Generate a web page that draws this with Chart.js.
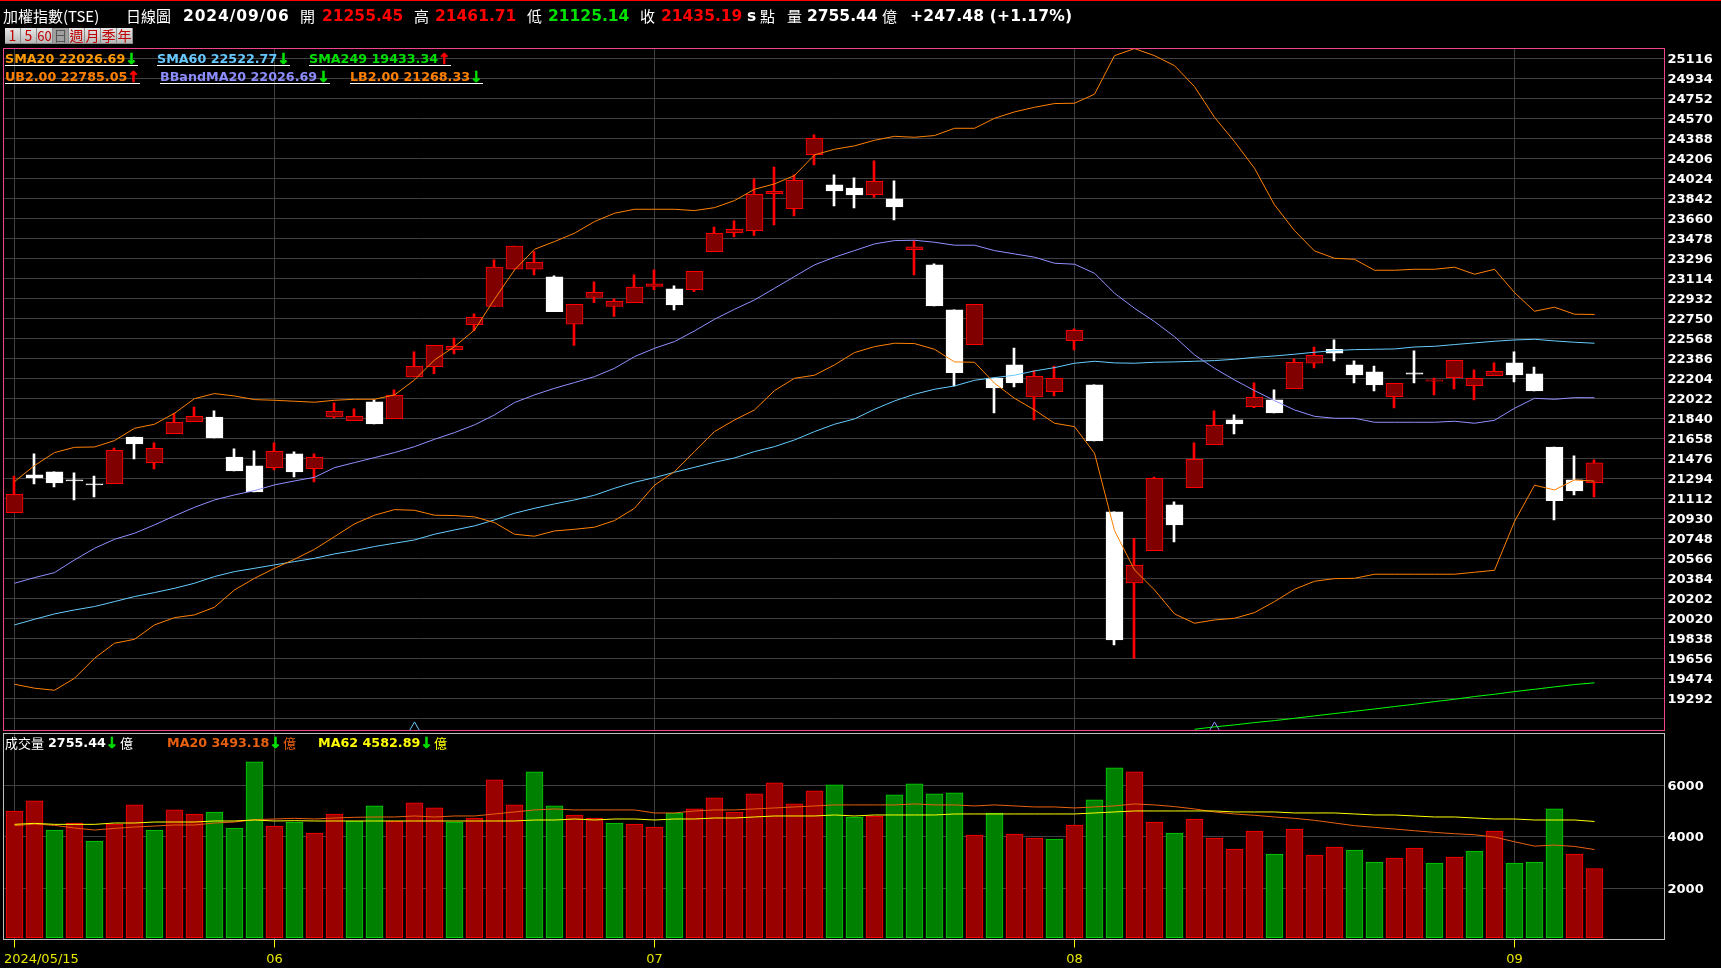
<!DOCTYPE html>
<html lang="zh-Hant"><head><meta charset="utf-8"><title>加權指數(TSE) 日線圖</title>
<script src="https://cdn.jsdelivr.net/npm/chart.js@4/dist/chart.umd.min.js"></script>
<style>
html,body{margin:0;padding:0;background:#000;width:1721px;height:968px;overflow:hidden}
canvas{position:absolute;left:0;display:block}
#topline{position:absolute;left:0;top:0;width:1721px;height:1px;background:#f00}
.t{position:absolute;white-space:pre;line-height:1;z-index:5}
.cjk{font-family:"Noto Sans CJK TC",sans-serif;font-weight:400;color:#fff}
.b{font-family:"DejaVu Sans",sans-serif;font-weight:700}
.h{font-size:15.5px;top:9px}
.c{font-size:15.5px;top:9px}
.l{font-size:12.7px;padding-bottom:1px;border-bottom:1px solid #fff;height:11px}
.dn,.up{display:inline-block;font-size:15px;line-height:12px;vertical-align:top;-webkit-text-stroke:.6px currentColor}
.dn{color:#00e000}.up{color:#ff0000}
#btns{position:absolute;left:5px;top:28px;height:16px;display:flex;z-index:5}
#btns span{width:16px;height:16px;box-sizing:border-box;text-align:center;font:14px/15px "Noto Sans CJK TC",sans-serif;color:#c00000;background:linear-gradient(#e8e8e8,#b8b8b8);border-right:1px solid #8a8a8a;border-bottom:1px solid #8a8a8a}
#btns span.on{background:#a0a0a0;color:#555}
</style></head><body>
<div id="topline"></div>
<canvas id="priceChart" width="1721" height="732" style="top:0;width:1721px;height:732px"></canvas>
<canvas id="volumeChart" width="1721" height="236" style="top:732px;width:1721px;height:236px"></canvas>

<span class="t cjk" style="left:3px;top:8px;font-size:15px">加權指數(TSE)</span>
<span class="t cjk" style="left:126px;top:8px;font-size:15px">日線圖</span>
<span class="t b h" style="left:183px;color:#fff;letter-spacing:.9px">2024/09/06</span>
<span class="t cjk" style="left:300px;top:8px;font-size:15px">開</span>
<span class="t b c" style="left:322px;color:#f00">21255.45</span>
<span class="t cjk" style="left:414px;top:8px;font-size:15px">高</span>
<span class="t b c" style="left:435px;color:#f00">21461.71</span>
<span class="t cjk" style="left:527px;top:8px;font-size:15px">低</span>
<span class="t b c" style="left:548px;color:#00e000">21125.14</span>
<span class="t cjk" style="left:640px;top:8px;font-size:15px">收</span>
<span class="t b c" style="left:661px;color:#f00">21435.19</span>
<span class="t b c" style="left:747px;color:#fff">s</span>
<span class="t cjk" style="left:760px;top:8px;font-size:15px">點</span>
<span class="t cjk" style="left:787px;top:8px;font-size:15px">量</span>
<span class="t b c" style="left:807px;color:#fff">2755.44</span>
<span class="t cjk" style="left:882px;top:8px;font-size:15px">億</span>
<span class="t b c" style="left:910px;color:#fff;letter-spacing:.2px">+247.48 (+1.17%)</span>

<div id="btns"><span>1</span><span>5</span><span style="font-size:13px">60</span><span class="on">日</span><span>週</span><span>月</span><span>季</span><span>年</span></div>

<span class="t b l" style="left:5px;top:53px;color:#ff9a00">SMA20 22026.69<span class="dn">↓</span></span>
<span class="t b l" style="left:157px;top:53px;color:#66c8ff">SMA60 22522.77<span class="dn">↓</span></span>
<span class="t b l" style="left:309px;top:53px;color:#00e000">SMA249 19433.34<span class="up">↑</span></span>
<span class="t b l" style="left:5px;top:71px;color:#ff8000">UB2.00 22785.05<span class="up">↑</span></span>
<span class="t b l" style="left:160px;top:71px;color:#8c8cff">BBandMA20 22026.69<span class="dn">↓</span></span>
<span class="t b l" style="left:350px;top:71px;color:#ff8000">LB2.00 21268.33<span class="dn">↓</span></span>

<span class="t cjk" style="left:5px;top:736px;font-size:13px">成交量</span>
<span class="t b" style="left:48px;top:737px;font-size:12.7px;color:#fff">2755.44<span class="dn">↓</span></span>
<span class="t cjk" style="left:120px;top:736px;font-size:13px">億</span>
<span class="t b" style="left:167px;top:737px;font-size:12.7px;color:#e8600f">MA20 3493.18<span class="dn">↓</span></span>
<span class="t cjk" style="left:283px;top:736px;font-size:13px;color:#e8600f">億</span>
<span class="t b" style="left:318px;top:737px;font-size:12.7px;color:#ffff00">MA62 4582.89<span class="dn">↓</span></span>
<span class="t cjk" style="left:434px;top:736px;font-size:13px;color:#ffff00">億</span>

<script>
const slotCount = 83;
const tickIndexes = [0, 13, 32, 53, 75];
const tickNames = ['2024/05/15', '06', '07', '08', '09'];
const priceTicks = [19110,19292,19474,19656,19838,20020,20202,20384,20566,20748,20930,21112,21294,21476,21658,21840,22022,22204,22386,22568,22750,22932,23114,23296,23478,23660,23842,24024,24206,24388,24570,24752,24934,25116];
const volumeTicks = [2000, 4000, 6000];

const openP = [20982,21325,21352,21279,21243,21246,21670,21437,21701,21810,
21852,21488,21407,21391,21516,21382,21852,21819,21989,21837,
22216,22310,22465,22692,22857,23196,23196,23127,22696,22939,
22857,22893,23039,23017,23011,23357,23530,23548,23885,23748,
24240,23964,23936,23876,23836,23375,23236,22826,22511,22207,
22326,22034,22083,22547,22144,20988,20342,20636,21052,21209,
21601,21825,21946,22007,22110,22341,22468,22326,22262,22037,
22253,22177,22210,22137,22228,22344,22244,21579,21279,21255];
const closeP = [21149,21297,21252,21270,21234,21549,21607,21567,21804,21858,
21661,21361,21170,21540,21352,21485,21904,21858,21789,22049,
22313,22504,22495,22759,23215,23406,23260,22811,22878,22987,
22905,23033,23063,22872,23178,23524,23560,23879,23906,24006,
24388,23909,23873,23997,23763,23400,22863,22256,22878,22116,
22162,22222,22204,22641,21634,19823,20503,21294,20870,21467,
21777,21789,22031,21889,22350,22414,22432,22235,22143,22159,
22241,22189,22368,22204,22268,22235,22089,21091,21179,21435];
const highP = [21315,21516,21352,21343,21315,21570,21670,21616,21886,21943,
21907,21561,21543,21616,21534,21516,21980,21925,22007,22098,
22444,22504,22571,22790,23281,23406,23357,23136,22878,23081,
22926,23145,23190,23045,23178,23581,23636,24018,24127,24055,
24419,24055,24027,24182,24000,23454,23245,22826,22878,22207,
22480,22274,22316,22653,22144,20988,20748,21306,21079,21616,
21907,21871,22162,22098,22380,22489,22553,22362,22316,22159,
22453,22207,22368,22280,22344,22444,22307,21579,21498,21462];
const lowP = [20982,21243,21215,21097,21124,21246,21470,21379,21701,21810,
21661,21361,21170,21370,21306,21261,21843,21819,21789,21837,
22216,22247,22426,22638,22857,23196,23145,22811,22502,22893,
22766,22893,23011,22826,22993,23357,23490,23503,23600,23682,
24146,23773,23754,23851,23645,23145,22863,22135,22511,21889,
22125,21825,22043,22462,21634,19778,19656,20636,20715,21209,
21601,21698,21937,21889,22110,22298,22362,22162,22089,21934,
22162,22053,22107,22007,22228,22171,22089,20915,21143,21125];

const upperBand = [21264,21410,21528,21576,21579,21637,21749,21786,21886,22019,
22065,22043,22010,22004,21995,21986,22004,22013,22013,22053,
22189,22371,22492,22644,22924,23190,23378,23448,23524,23630,
23706,23742,23742,23742,23730,23757,23821,23924,23973,24049,
24237,24288,24319,24370,24406,24397,24413,24479,24479,24570,
24628,24670,24704,24707,24789,25140,25204,25140,25049,24858,
24579,24358,24115,23782,23548,23363,23296,23287,23187,23187,
23196,23196,23215,23151,23196,22984,22814,22851,22787,22785];
const middleBand = [20339,20390,20436,20551,20657,20739,20794,20870,20952,21030,
21097,21143,21182,21234,21270,21303,21391,21437,21482,21528,
21582,21649,21710,21780,21871,21983,22053,22113,22165,22219,
22295,22401,22477,22538,22635,22741,22832,22917,23023,23130,
23236,23306,23366,23427,23457,23460,23442,23415,23415,23366,
23336,23306,23251,23242,23160,22978,22841,22720,22583,22417,
22295,22189,22092,22001,21916,21858,21840,21840,21804,21804,
21804,21804,21813,21795,21822,21931,22022,22013,22028,22027];
const lowerBand = [19420,19384,19365,19474,19656,19793,19829,19960,20026,20051,
20121,20278,20384,20475,20557,20648,20763,20879,20958,21009,
21003,20958,20955,20943,20891,20785,20767,20815,20830,20849,
20909,21021,21231,21355,21537,21719,21825,21916,22092,22204,
22232,22326,22438,22492,22523,22520,22468,22353,22350,22159,
22022,21916,21795,21764,21522,20818,20460,20278,20060,19975,
20005,20020,20072,20172,20284,20357,20381,20384,20421,20421,
20421,20421,20421,20439,20457,20900,21231,21188,21279,21268];
const sma60 = [19960,20011,20060,20096,20127,20172,20218,20254,20293,20339,
20400,20445,20475,20506,20536,20566,20606,20636,20673,20703,
20733,20785,20824,20861,20915,20976,21021,21061,21097,21140,
21203,21258,21300,21349,21394,21440,21479,21537,21582,21643,
21719,21786,21834,21922,21998,22059,22104,22134,22186,22210,
22232,22271,22301,22341,22359,22344,22341,22350,22353,22359,
22365,22377,22395,22407,22423,22441,22456,22465,22468,22471,
22489,22495,22511,22526,22541,22553,22559,22544,22532,22523];
const sma249 = [null,null,null,null,null,null,null,null,null,null,
null,null,null,null,null,null,null,null,null,null,
null,null,null,null,null,null,null,null,null,null,
null,null,null,null,null,null,null,null,null,null,
null,null,null,null,null,null,null,null,null,null,
null,null,null,null,null,null,null,null,null,19010,
19032,19050,19071,19089,19110,19132,19153,19174,19195,19217,
19238,19262,19283,19308,19329,19353,19374,19396,19417,19433];
const sma60OffScaleIndex = 20, sma60OffScaleValue = 19004;
const bandOffScaleIndex = 60, bandOffScaleValue = 19004;

const volume = [4992,5382,4251,4524,3822,4485,5226,4251,5031,4875,
4953,4329,6903,4407,4563,4134,4875,4602,5187,4602,
5304,5109,4563,4719,6201,5226,6513,5187,4836,4719,
4524,4485,4368,4914,5070,5499,4953,5655,6084,5265,
5772,6006,4758,4797,5616,6045,5655,5694,4056,4914,
4095,3939,3900,4446,5421,6669,6513,4563,4134,4680,
3939,3510,4212,3315,4290,3276,3588,3471,3003,3159,
3549,2964,3198,3432,4212,2964,3003,5070,3315,2755];
const volumeSide = ('rrgrgrrgrr'+'gggrgrrggr'+'rrgrrrggrr'+'grrgrrrrrr'+'rggrggggrg'+'rrgrggrrgr'+'rrrgrrrggr'+'rgrgrgggrr').split('');
const volumeMa20 = [4420,4485,4433,4329,4251,4316,4368,4407,4446,4446,
4524,4563,4654,4680,4706,4680,4719,4745,4758,4758,
4797,4758,4797,4797,4875,4953,5031,5070,5031,5031,
5031,5031,4914,4914,4992,5031,5031,5070,5109,5148,
5187,5226,5226,5226,5226,5265,5226,5226,5187,5226,
5187,5148,5148,5109,5148,5187,5265,5226,5161,5070,
4953,4875,4823,4758,4706,4628,4524,4420,4355,4290,
4225,4160,4108,4069,3978,3796,3627,3666,3614,3493];
const volumeMa62 = [4472,4511,4472,4472,4472,4524,4524,4563,4563,4563,
4602,4602,4641,4602,4615,4602,4602,4602,4602,4602,
4602,4602,4602,4602,4602,4602,4641,4641,4680,4641,
4680,4680,4641,4680,4680,4719,4719,4758,4797,4797,
4797,4836,4797,4836,4836,4836,4836,4875,4875,4875,
4875,4875,4875,4875,4914,4953,4992,4992,4992,4992,
4992,4953,4953,4953,4914,4914,4914,4875,4836,4836,
4797,4758,4758,4719,4680,4680,4641,4641,4641,4583];

const GRID = '#404040';
const FONT_TICK = {family:'"DejaVu Sans"', size:13, weight:'700'};
const categories = Array.from({length: slotCount}, (_, i) => {
  const k = tickIndexes.indexOf(i);
  return k < 0 ? '' : tickNames[k];
});
const isTick = i => tickIndexes.includes(i);
const noPad = s => { s.paddingLeft = 0; s.paddingRight = 0; s.paddingTop = 0; s.paddingBottom = 0; };

const frame = color => ({
  id: 'frame',
  afterDraw(chart){
    const a = chart.chartArea, c = chart.ctx;
    c.save(); c.strokeStyle = color; c.lineWidth = 1;
    c.strokeRect(3.5, a.top, a.right - 3.5, a.bottom - a.top);
    c.restore();
  }
});
const wickShift = wickIndex => ({
  id: 'wickShift',
  beforeDatasetDraw(chart, args){ if(args.index === wickIndex){ chart.ctx.save(); chart.ctx.translate(-0.5, 0); } },
  afterDatasetDraw(chart, args){ if(args.index === wickIndex){ chart.ctx.restore(); } }
});
const line = (data, color, order, width) => ({type:'line', data, borderColor:color, borderWidth:width||1, pointRadius:0, tension:0, fill:false, order, spanGaps:false});
const flag = (index, value, color) => ({type:'line', data:categories.map((_, i) => i === index ? value : null), showLine:false,
  pointStyle:'triangle', pointRadius:8, pointBorderWidth:1, pointBorderColor:color, pointBackgroundColor:'transparent', borderColor:color, order:0});

const isUp = i => closeP[i] >= openP[i];
new Chart(document.getElementById('priceChart'), {
  type:'bar',
  plugins:[frame('#f0458c'), wickShift(0)],
  data:{labels:categories, datasets:[
    {label:'wick', data:openP.map((_, i) => [lowP[i], highP[i]]), grouped:false, barThickness:2, borderWidth:0,
     backgroundColor:openP.map((_, i) => isUp(i) ? '#ff0000' : '#ffffff'), order:6},
    {label:'body', data:openP.map((_, i) => [openP[i], closeP[i]]), grouped:false, barThickness:17, borderWidth:1, borderSkipped:false,
     backgroundColor:openP.map((_, i) => isUp(i) ? '#800000' : '#ffffff'),
     borderColor:openP.map((_, i) => isUp(i) ? '#ff0000' : '#ffffff'), order:5},
    line(sma60, '#66ccff', 4),
    line(middleBand, '#9090ff', 3),
    line(upperBand, '#ff8000', 2),
    line(lowerBand, '#ff8000', 2),
    line(sma249, '#00ff00', 1),
    flag(sma60OffScaleIndex, sma60OffScaleValue, '#66ccff'),
    flag(bandOffScaleIndex, bandOffScaleValue, '#9090ff')
  ]},
  options:{
    responsive:false, animation:false, devicePixelRatio:1,
    layout:{autoPadding:false, padding:{left:4.5, top:48.5, right:0, bottom:1.5}},
    plugins:{legend:{display:false}, tooltip:{enabled:false}},
    scales:{
      x:{offset:true, afterFit:s => {s.height = 0; noPad(s);}, border:{display:false},
         grid:{offset:false, drawTicks:false, lineWidth:1, color:c => isTick(c.index) ? GRID : 'transparent'},
         ticks:{display:false, autoSkip:false, maxRotation:0, minRotation:0}},
      y:{position:'right', min:18999, max:25205, border:{display:false},
         afterFit:s => {s.width = 56.5; noPad(s);},
         afterBuildTicks:s => {s.ticks = priceTicks.map(value => ({value}));},
         grid:{color:GRID, lineWidth:1, drawTicks:false},
         ticks:{padding:3, labelOffset:1.5, color:'#ffffff', font:FONT_TICK, callback:v => v === priceTicks[0] ? '' : String(v)}}
    }
  }
});

new Chart(document.getElementById('volumeChart'), {
  type:'bar',
  plugins:[frame('#c0c0c0')],
  data:{labels:categories, datasets:[
    {label:'量', data:volume, base:70, barThickness:17, borderWidth:1, borderSkipped:false, order:3,
     backgroundColor:volumeSide.map(s => s === 'r' ? '#990000' : '#008000'),
     borderColor:volumeSide.map(s => s === 'r' ? '#ff0000' : '#00d000')},
    line(volumeMa20, '#e8600f', 2),
    line(volumeMa62, '#ffff00', 1)
  ]},
  options:{
    responsive:false, animation:false, devicePixelRatio:1,
    layout:{autoPadding:false, padding:{left:4.5, top:1.5, right:0, bottom:0}},
    plugins:{legend:{display:false}, tooltip:{enabled:false}},
    scales:{
      x:{offset:true, afterFit:s => {s.height = 28.5; noPad(s);}, border:{display:false},
         grid:{offset:false, lineWidth:1, tickLength:8, color:c => isTick(c.index) ? GRID : 'transparent',
               tickColor:c => isTick(c.index) ? '#ffff00' : 'transparent'},
         ticks:{autoSkip:false, maxRotation:0, minRotation:0, padding:4, color:'#e6e600',
                font:{family:'"DejaVu Sans"', size:13},
                callback:(v, i) => i === 0 ? '\u00a0'.repeat(13) + categories[i] : categories[i]}},
      y:{position:'right', min:0, max:8000, border:{display:false},
         afterFit:s => {s.width = 56.5; noPad(s);},
         afterBuildTicks:s => {s.ticks = volumeTicks.map(value => ({value}));},
         grid:{color:GRID, lineWidth:1, drawTicks:false},
         ticks:{padding:3, labelOffset:1.5, color:'#ffffff', font:FONT_TICK, callback:v => String(v)}}
    }
  }
});
</script>
</body></html>
